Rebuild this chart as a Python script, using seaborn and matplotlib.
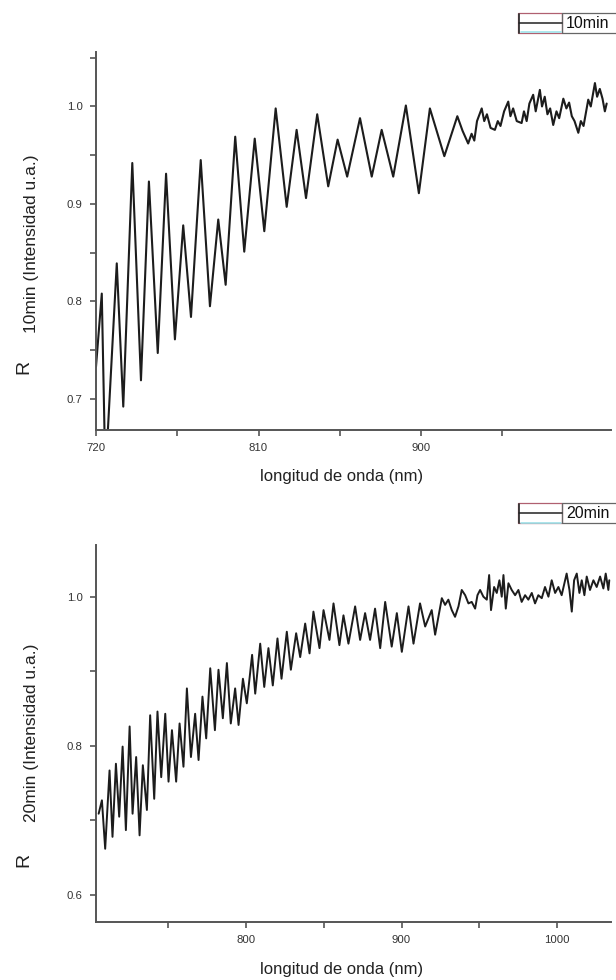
import matplotlib
matplotlib.use("Agg")
import matplotlib.pyplot as plt
import seaborn as sns
import pandas as pd
from matplotlib.patches import Rectangle
from matplotlib.lines import Line2D

# ---- 10 min sample: reflectance spectrum ----
wl_10 = [720.0, 723.2, 725.2, 731.5, 735.1, 740.1, 744.9, 749.3, 754.2, 758.8,
         763.7, 768.3, 772.6, 778.0, 783.1, 787.7, 791.8, 797.1, 802.1, 807.9,
         813.2, 819.5, 825.6, 831.1, 836.3, 842.5, 848.6, 853.8, 859.1, 866.2,
         872.7, 878.2, 884.6, 891.6, 898.8, 904.9, 912.9, 920.1, 923.0, 926.1,
         928.0, 929.5, 931.0, 933.6, 935.0, 936.5, 938.5, 940.9, 942.5, 944.0,
         946.0, 948.3, 949.5, 951.0, 953.0, 955.7, 957.0, 958.5, 960.0, 962.1,
         963.5, 965.8, 967.0, 968.5, 970.0, 971.5, 973.2, 975.0, 976.5, 978.8,
         980.5, 982.0, 983.5, 985.0, 987.1, 988.5, 990.0, 992.6, 994.0, 996.3,
         997.5, 999.0, 1000.5, 1001.8, 1002.8]
r_10 = [0.733, 0.808, 0.620, 0.839, 0.692, 0.942, 0.719, 0.923, 0.747, 0.931,
        0.761, 0.878, 0.784, 0.945, 0.795, 0.884, 0.817, 0.969, 0.851, 0.967,
        0.872, 0.998, 0.897, 0.976, 0.906, 0.992, 0.918, 0.966, 0.928, 0.988,
        0.928, 0.976, 0.928, 1.001, 0.911, 0.998, 0.949, 0.990, 0.975, 0.962,
        0.972, 0.965, 0.985, 0.998, 0.985, 0.992, 0.978, 0.976, 0.985, 0.980,
        0.995, 1.005, 0.990, 0.998, 0.985, 0.983, 0.995, 0.985, 1.003, 1.012,
        0.995, 1.017, 1.000, 1.010, 0.992, 0.998, 0.981, 0.995, 0.988, 1.008,
        0.998, 1.004, 0.990, 0.985, 0.973, 0.985, 0.980, 1.007, 1.000, 1.024,
        1.010, 1.018, 1.008, 0.995, 1.003]

# ---- 20 min sample: reflectance spectrum ----
wl_20 = [705.4, 707.5, 709.6, 712.4, 714.3, 716.5, 718.6, 720.8, 722.9, 725.3,
         727.2, 729.5, 731.7, 733.8, 736.4, 738.5, 741.1, 743.2, 745.6, 748.2,
         750.3, 752.5, 755.2, 757.4, 759.9, 762.1, 764.7, 767.4, 769.6, 772.1,
         774.5, 777.1, 780.1, 782.4, 785.2, 787.8, 790.3, 793.1, 795.3, 798.1,
         800.6, 804.0, 806.0, 809.2, 811.8, 814.5, 817.3, 820.3, 822.9, 826.3,
         828.9, 832.3, 834.9, 838.1, 840.9, 843.4, 847.3, 849.9, 853.7, 856.3,
         860.1, 862.7, 865.9, 870.2, 873.4, 876.6, 879.8, 883.0, 886.3, 889.5,
         893.7, 897.0, 900.2, 904.5, 907.7, 911.9, 915.2, 919.4, 921.6, 925.9,
         928.0, 930.1, 932.3, 934.4, 936.6, 938.7, 940.9, 943.0, 945.1, 947.3,
         948.8, 950.5, 952.6, 954.8, 956.3, 957.5, 959.5, 961.2, 962.9, 964.4,
         965.5, 967.0, 968.7, 970.8, 973.0, 975.1, 977.2, 979.4, 981.5, 983.7,
         985.8, 987.9, 990.1, 992.2, 994.4, 996.5, 998.7, 1000.8, 1002.9, 1005.1,
         1006.1, 1007.9, 1009.4, 1010.9, 1012.6, 1014.3, 1015.8, 1017.5, 1019.0,
         1021.1, 1023.3, 1025.4, 1027.6, 1029.7, 1031.2, 1032.9, 1033.5]
r_20 = [0.709, 0.727, 0.662, 0.767, 0.678, 0.776, 0.705, 0.799, 0.687, 0.826,
        0.709, 0.785, 0.680, 0.774, 0.714, 0.841, 0.729, 0.846, 0.758, 0.843,
        0.752, 0.821, 0.752, 0.830, 0.772, 0.877, 0.785, 0.843, 0.781, 0.866,
        0.810, 0.904, 0.821, 0.902, 0.837, 0.911, 0.830, 0.877, 0.828, 0.890,
        0.857, 0.922, 0.870, 0.937, 0.879, 0.931, 0.881, 0.944, 0.890, 0.953,
        0.902, 0.951, 0.919, 0.964, 0.924, 0.980, 0.931, 0.982, 0.942, 0.991,
        0.935, 0.975, 0.937, 0.987, 0.942, 0.978, 0.942, 0.984, 0.931, 0.993,
        0.933, 0.978, 0.926, 0.987, 0.937, 0.991, 0.960, 0.982, 0.949, 0.998,
        0.989, 0.996, 0.982, 0.973, 0.987, 1.009, 1.002, 0.991, 0.993, 0.984,
        1.002, 1.009, 1.000, 0.996, 1.029, 0.982, 1.013, 1.005, 1.022, 1.000,
        1.029, 0.984, 1.018, 1.009, 1.002, 1.009, 0.993, 1.002, 0.996, 1.005,
        0.991, 1.002, 0.998, 1.013, 1.000, 1.022, 1.005, 1.013, 1.002, 1.022,
        1.031, 1.009, 0.980, 1.022, 1.031, 1.005, 1.022, 1.002, 1.027,
        1.009, 1.022, 1.013, 1.027, 1.011, 1.031, 1.009, 1.022]

xticks_10 = [720, 810, 900]
xminor_10 = [765, 855, 945]
yticks_10 = [0.7, 0.8, 0.9, 1.0]
yminor_10 = [0.75, 0.85, 0.95, 1.05]
xticks_20 = [800, 900, 1000]
xminor_20 = [750, 850, 950]
yticks_20 = [0.6, 0.8, 1.0]
yminor_20 = [0.7, 0.9]

labels_10 = ["10min (Intensidad u.a.)", "10min"]
labels_20 = ["20min (Intensidad u.a.)", "20min"]

sns.set_theme(style="ticks")
plt.rcParams["font.family"] = ["Liberation Sans", "DejaVu Sans"]

W, H = 616, 980
fig = plt.figure(figsize=(W / 100, H / 100), dpi=100)
fig.patch.set_facecolor("white")


def fx(px):
    return px / W


def fy(py):
    return 1 - py / H


ax_col = "#555555"
tick_col = "#333333"


def style_axis(ax, xt, xm, yt, ym):
    ax.set_xticks(xt)
    ax.set_xticklabels([str(v) for v in xt])
    ax.set_xticks(xm, minor=True)
    ax.set_yticks(yt)
    ax.set_yticklabels([f"{v:.1f}" for v in yt])
    ax.set_yticks(ym, minor=True)
    for s in ["top", "right"]:
        ax.spines[s].set_visible(False)
    for s in ["left", "bottom"]:
        ax.spines[s].set_color(ax_col)
        ax.spines[s].set_linewidth(1.4)
    ax.tick_params(which="both", direction="out", color=ax_col, width=1.2,
                   labelsize=8.2, labelcolor=tick_col)
    ax.tick_params(which="major", length=4.5, pad=5)
    ax.tick_params(which="minor", length=4.5)
    ax.set_facecolor("white")
    ax.grid(False)
    ax.set_xlabel("")
    ax.set_ylabel("")


def legend_box(y_top, label):
    # sample swatch with line, then the framed label
    fig.add_artist(Rectangle((fx(518), fy(y_top + 20)), fx(562) - fx(518), fy(y_top) - fy(y_top + 20),
                             transform=fig.transFigure, fill=False, ec="#b06070", lw=0.9))
    fig.add_artist(Line2D([fx(519), fx(519)], [fy(y_top + 1), fy(y_top + 20)],
                          transform=fig.transFigure, color="#333333", lw=1.3))
    fig.add_artist(Line2D([fx(519), fx(562)], [fy(y_top + 10), fy(y_top + 10)],
                          transform=fig.transFigure, color="#222222", lw=1.1))
    fig.add_artist(Line2D([fx(521), fx(561)], [fy(y_top + 19.5), fy(y_top + 19.5)],
                          transform=fig.transFigure, color="#9fe3ea", lw=1.2))
    fig.add_artist(Rectangle((fx(562), fy(y_top + 20)), fx(640) - fx(562), fy(y_top) - fy(y_top + 20),
                             transform=fig.transFigure, fill=False, ec="#666666", lw=0.9,
                             clip_on=False))
    fig.text(fx(566), fy(y_top + 10.5), label, ha="left", va="center",
             fontsize=11.5, color="#111111")


line_kw = dict(color="#1c1c1c", estimator=None, sort=False,
               solid_joinstyle="round")

# ---- top panel ----
ax1 = fig.add_axes([fx(96), fy(430), fx(611) - fx(96), fy(52) - fy(430)])
df10 = pd.DataFrame({"wl": wl_10, "r": r_10})
sns.lineplot(data=df10, x="wl", y="r", ax=ax1, lw=1.5, **line_kw)
ax1.set_xlim(720, 1005.2)
ax1.set_ylim(0.668, 1.0559)
style_axis(ax1, xticks_10, xminor_10, yticks_10, yminor_10)

# ---- bottom panel ----
ax2 = fig.add_axes([fx(96), fy(922), fx(611) - fx(96), fy(545) - fy(922)])
df20 = pd.DataFrame({"wl": wl_20, "r": r_20})
sns.lineplot(data=df20, x="wl", y="r", ax=ax2, lw=1.4, **line_kw)
ax2.set_xlim(703.7, 1034.6)
ax2.set_ylim(0.5638, 1.0693)
style_axis(ax2, xticks_20, xminor_20, yticks_20, yminor_20)

# axis titles
fig.text(fx(342), fy(477), "longitud de onda (nm)", ha="center", va="center",
         fontsize=12, color="#222222")
fig.text(fx(342), fy(969), "longitud de onda (nm)", ha="center", va="center",
         fontsize=12, color="#222222")

for (y_r, y_txt, lab) in [(367, 244, labels_10[0]), (860, 733, labels_20[0])]:
    fig.text(fx(24), fy(y_r), "R", rotation=90, ha="center", va="center",
             fontsize=14, color="#222222")
    fig.text(fx(32), fy(y_txt), lab, rotation=90, ha="center", va="center",
             fontsize=12.5, color="#222222")

legend_box(13, labels_10[1])
legend_box(503, labels_20[1])

fig.savefig("out.png", dpi=100, facecolor="white")
